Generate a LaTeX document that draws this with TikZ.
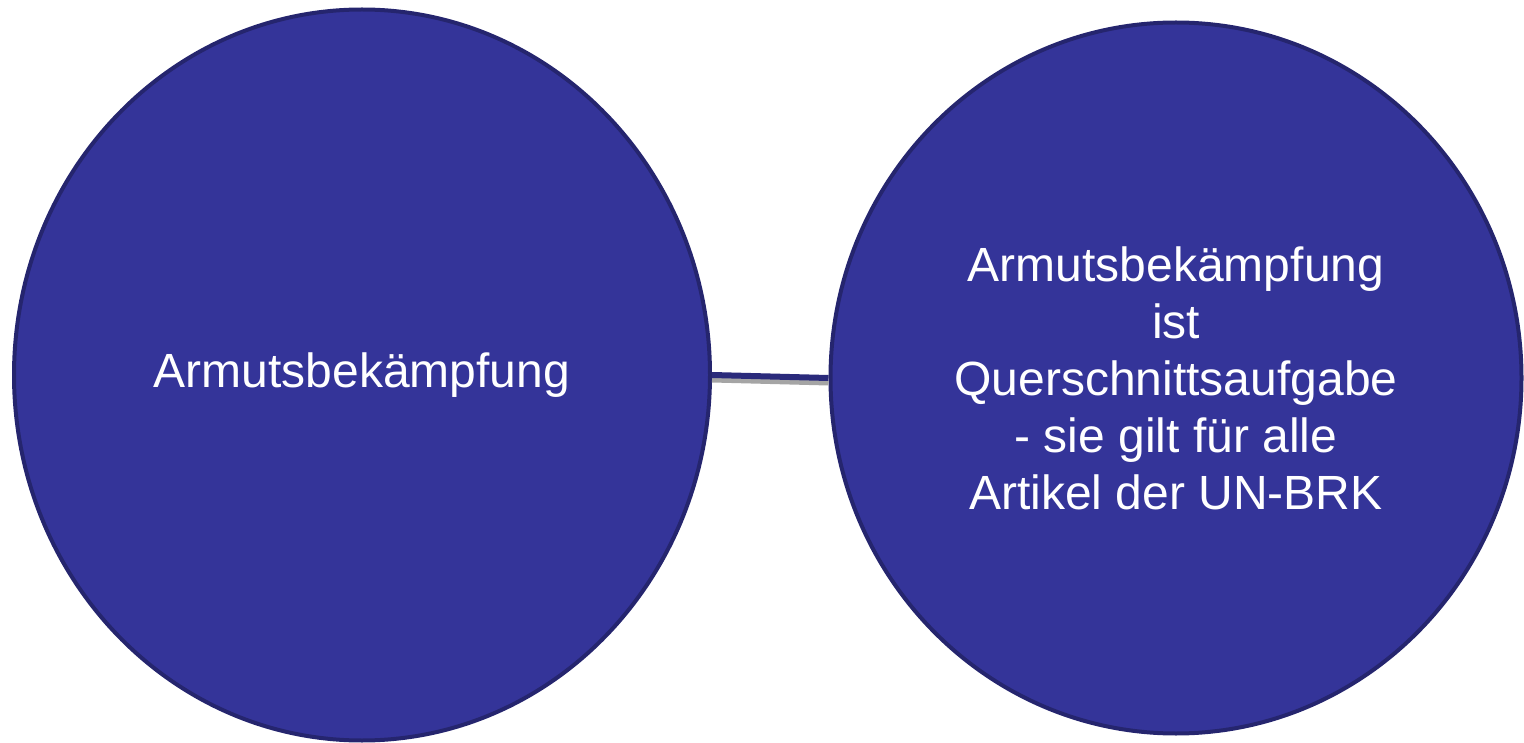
\documentclass[tikz,border=0pt]{standalone}
\usepackage{fontspec}
\setmainfont{Liberation Sans}
\usetikzlibrary{positioning,shapes.geometric}
\definecolor{kreisblau}{RGB}{52,52,153}
\definecolor{randblau}{RGB}{37,37,110}
\definecolor{schatten}{RGB}{165,165,165}

\begin{document}
\begin{tikzpicture}[node distance={814pt}, main/.style={draw=randblau, fill=kreisblau, ellipse, line width=4pt, inner sep=0pt, text=white, align=center, font=\fontsize{48}{57}\selectfont}]
		\useasboundingbox (0,0) rectangle (1524pt,-743pt);
		\node[main, minimum width=696pt, minimum height=731pt] (1) at (362pt,-375pt) {Armutsbekämpfung};
		\node[main, minimum width=691pt, minimum height=711pt] (2) [right of=1, yshift=-3pt] {Armutsbekämpfung\\ist\\Querschnittsaufgabe\\- sie gilt für alle\\Artikel der UN-BRK};

		\draw[schatten, line width=5pt] ([yshift=-5pt]1.east) to ([yshift=-5pt]2.west);
		\draw[randblau!70!kreisblau, line width=6pt] (1.east) to (2.west);
	\end{tikzpicture}
\end{document}
